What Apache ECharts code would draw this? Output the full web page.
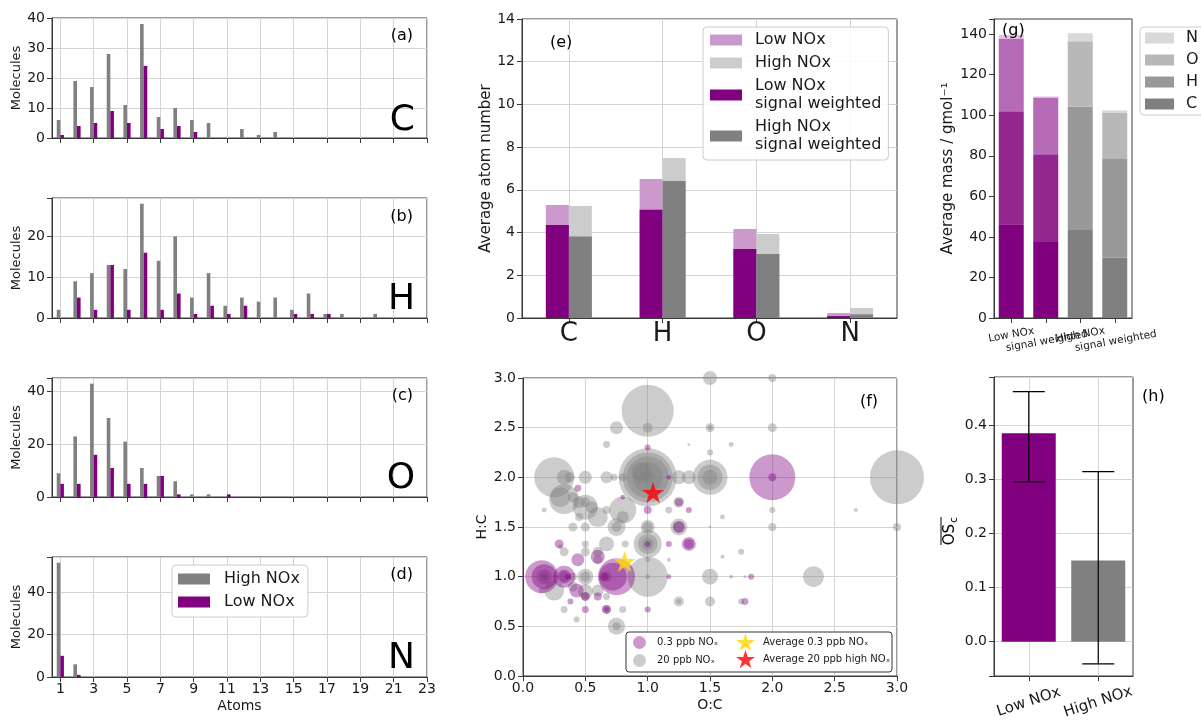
<!DOCTYPE html>
<html><head><meta charset="utf-8">
<script src="https://cdn.jsdelivr.net/npm/echarts@6/dist/echarts.min.js"></script>
<style>html,body{margin:0;padding:0;background:#fff}#c{width:1201px;height:720px}</style>
</head><body><div id="c"></div>
<script>
// ---------- data ----------
const atoms = [1,2,3,4,5,6,7,8,9,10,11,12,13,14,15,16,17,18,19,20,21,22,23];
const atomTicks = [1,3,5,7,9,11,13,15,17,19,21,23];
const cHigh = [6,19,17,28,11,38,7,10,6,5,0,3,1,2,0,0,0,0,0,0,0,0,0];
const cLow  = [1,4,5,9,5,24,3,4,2,0,0,0,0,0,0,0,0,0,0,0,0,0,0];
const hHigh = [2,9,11,13,12,28,14,20,5,11,3,5,4,5,2,6,1,1,0,1,0,0,0];
const hLow  = [0,5,2,13,2,16,2,6,1,3,1,3,0,0,1,1,1,0,0,0,0,0,0];
const oHigh = [9,23,43,30,21,11,8,6,1,1,0,0,0,0,0,0,0,0,0,0,0,0,0];
const oLow  = [5,5,16,11,5,5,8,1,0,0,1,0,0,0,0,0,0,0,0,0,0,0,0];
const nHigh = [54,6,0,0,0,0,0,0,0,0,0,0,0,0,0,0,0,0,0,0,0,0,0];
const nLow  = [10,1,0,0,0,0,0,0,0,0,0,0,0,0,0,0,0,0,0,0,0,0,0];

const elements = ['C','H','O','N'];
const eLowAll  = [5.29, 6.51, 4.17, 0.23];
const eHighAll = [5.24, 7.49, 3.93, 0.47];
const eLowSW   = [4.35, 5.07, 3.23, 0.09];
const eHighSW  = [3.82, 6.41, 3.00, 0.17];

const gCats = ['Low NOx', '\nsignal weighted', 'High NOx', '\nsignal weighted'];
const gC = [46.3, 37.5, 43.4, 29.7];
const gH = [55.7, 43.3, 60.9, 48.7];
const gO = [35.9, 28.0, 32.2, 22.8];
const gN = [1.8, 0.5, 4.0, 1.2];

const hCats = ['Low NOx', 'High NOx'];
const hOSc = [0.385, 0.15];
const hErrLow = [0.295, -0.041];
const hErrHigh = [0.462, 0.314];

// (f) O:C, H:C, signal (bubble area)
const fHighOC = [1.0,1.5,2.0,0.75,1.0,1.5,1.5,2.0,0.67,1.33,1.67,1.5,1.0,1.0,1.0,1.0,0.95,1.0,0.25,0.33,0.375,0.5,0.67,0.73,0.8,1.25,1.33,1.5,1.5,1.5,3.0,0.33,0.3,0.4,0.45,0.5,0.5,0.55,0.6,0.67,0.8,0.8,0.75,0.75,0.4,0.5,0.45,0.17,1.0,1.0,1.0,1.0,1.0,1.17,1.25,1.25,1.25,1.6,2.0,2.67,2.0,3.0,1.5,0.5,0.5,0.67,0.82,0.33,0.3,0.6,0.6,1.0,1.17,1.75,1.6,1.0,1.0,0.67,0.5,0.5,0.4,0.17,0.17,0.33,0.25,0.15,0.5,0.5,0.6,0.67,1.5,1.67,1.78,2.33,1.25,1.25,1.5,0.75,0.75,0.43,0.33,0.8,0.67,1.75,0.4];
const fHighHC = [2.67,3.0,3.0,2.5,2.5,2.5,2.5,2.5,2.33,2.33,2.33,2.25,2.0,2.0,2.0,2.0,2.05,2.0,2.0,2.0,2.0,2.0,2.0,2.0,2.0,2.0,2.0,2.0,2.0,2.0,2.0,1.78,1.8,1.8,1.75,1.7,1.75,1.7,1.6,1.67,1.67,1.6,1.5,1.5,1.5,1.5,1.6,1.67,1.5,1.5,1.33,1.33,1.33,1.67,1.75,1.5,1.5,1.6,1.67,1.67,1.5,1.5,1.5,1.33,1.25,1.33,1.33,1.25,1.3,1.25,1.17,1.17,1.17,1.25,1.2,1.0,1.0,1.0,1.0,1.0,1.0,1.0,1.0,1.0,0.86,0.86,0.85,0.8,0.86,0.8,1.0,1.0,1.0,1.0,0.75,0.75,0.75,0.5,0.5,0.57,0.67,0.67,0.67,0.75,0.9];
const fHighSignal = [676,49,16,42,25,20,6,20,12,2,6,9,841,625,441,225,100,36,400,56,25,42,36,12,16,49,49,306,156,56,729,225,100,25,36,156,25,36,100,16,182,36,81,25,20,20,16,6,49,25,196,100,36,12,30,72,30,6,9,4,16,16,2,12,20,56,12,20,6,25,20,6,4,9,4,400,6,25,64,25,16,56,16,25,100,9,56,16,36,12,64,4,2,110,25,6,25,72,16,9,12,12,20,9,25];
const fLowOC = [2.0,2.0,0.75,0.72,0.15,0.17,0.33,0.33,0.36,0.44,0.6,0.43,0.5,0.6,0.38,0.5,0.67,0.67,1.0,1.17,1.33,1.33,1.33,1.17,1.25,1.25,1.0,0.44,0.8,1.0,1.78,1.83,0.29,1.0,1.17,0.65];
const fLowHC = [2.0,2.0,1.0,1.0,1.0,1.0,1.0,1.0,1.0,1.17,1.2,0.86,0.8,0.8,0.75,0.67,0.67,0.67,0.67,1.0,1.33,1.33,1.67,1.33,1.5,1.75,1.67,1.89,1.8,2.3,0.75,1.0,1.33,1.33,2.0,1.0];
const fLowSignal = [529,16,342,196,272,156,121,49,9,42,49,49,20,16,9,12,20,6,9,6,49,25,9,9,36,16,16,12,6,9,12,9,20,9,6,20];
const fAvgLow = [0.815, 1.152];
const fAvgHigh = [1.043, 1.848];

// ---------- style ----------
const FONT = 'DejaVu Sans';
const TXT = '#1a1a1a';
const FRAME = '#3a3a3a';
const GRIDC = '#d4d4d4';
const PURPLE = '#800080', GREY = '#808080';
const STAR = 'path://M0,-10L2.245,-3.09L9.511,-3.09L3.633,1.18L5.878,8.09L0,3.82L-5.878,8.09L-3.633,1.18L-9.511,-3.09L-2.245,-3.09Z';

function onStep(step, dec) {
  return v => Math.abs(v / step - Math.round(v / step)) < 1e-6 ? (dec ? v.toFixed(dec) : String(Math.round(v))) : '';
}
const axisLine = {show: true, onZero: false, lineStyle: {color: FRAME, width: 1}};
const axisTick = {show: true, length: 5, lineStyle: {color: FRAME, width: 1}};
const splitLine = {show: true, lineStyle: {color: GRIDC, width: 1}};
const lbl = (fs, margin) => ({color: TXT, fontFamily: FONT, fontSize: fs, margin: margin});
const nameStyle = fs => ({color: TXT, fontFamily: FONT, fontSize: fs});

const grids = [
  {left: 52, top: 18, width: 375, height: 120},
  {left: 52, top: 198, width: 375, height: 120},
  {left: 52, top: 378, width: 375, height: 119},
  {left: 52, top: 557, width: 375, height: 120},
  {left: 522, top: 19, width: 375, height: 299},
  {left: 523, top: 378, width: 374, height: 298},
  {left: 994, top: 19, width: 138, height: 299},
  {left: 994, top: 377, width: 139, height: 299}
].map(g => Object.assign({show: true, borderColor: FRAME, borderWidth: 1, backgroundColor: 'transparent', containLabel: false, outerBoundsMode: 'none'}, g));

const xAxis = [], yAxis = [], series = [];

// (a)-(d)
const hist = [
  {hi: cHigh, lo: cLow, max: 40, step: 10},
  {hi: hHigh, lo: hLow, max: 29.4, step: 10},
  {hi: oHigh, lo: oLow, max: 45.15, step: 20},
  {hi: nHigh, lo: nLow, max: 56.7, step: 20}
];
hist.forEach((p, i) => {
  xAxis.push({type: 'value', gridIndex: i, min: 0.5, max: 23,
    axisLine, axisTick: Object.assign({}, axisTick, {customValues: atomTicks}),
    axisLabel: Object.assign(lbl(14, 5), {show: i === 3, customValues: atomTicks}),
    splitLine,
    name: i === 3 ? 'Atoms' : '', nameLocation: 'middle', nameGap: 22, nameTextStyle: nameStyle(14)});
  yAxis.push({type: 'value', gridIndex: i, min: 0, max: p.max, interval: p.step,
    axisLine, axisTick, axisLabel: Object.assign(lbl(14, 7), {formatter: onStep(p.step, 0)}),
    splitLine,
    name: 'Molecules', nameLocation: 'middle', nameGap: 26, nameTextStyle: nameStyle(13)});
  series.push({type: 'bar', name: 'High NOx', xAxisIndex: i, yAxisIndex: i, barWidth: 3.6, barGap: '0%',
    data: atoms.map((a, k) => [a, p.hi[k]]), itemStyle: {color: GREY}});
  series.push({type: 'bar', name: 'Low NOx', xAxisIndex: i, yAxisIndex: i, barWidth: 3.6, barGap: '0%',
    data: atoms.map((a, k) => [a, p.lo[k]]), itemStyle: {color: PURPLE}});
});

// (e)
xAxis.push({type: 'category', gridIndex: 4, data: elements, axisLine,
  axisTick: Object.assign({}, axisTick, {alignWithLabel: true}),
  axisLabel: lbl(26, 3), splitLine: Object.assign({}, splitLine, {alignWithLabel: true})}); // xAxis 4
xAxis.push({type: 'category', gridIndex: 4, data: elements, show: false}); // xAxis 5
yAxis.push({type: 'value', gridIndex: 4, min: 0, max: 14, interval: 2, axisLine, axisTick,
  axisLabel: lbl(14, 7), splitLine,
  name: 'Average atom number', nameLocation: 'middle', nameGap: 28, nameTextStyle: nameStyle(15)}); // yAxis 4
const eNames = {eLowAll: 'Low NOx', eHighAll: 'High NOx', eLowSW: 'Low NOx\nsignal weighted', eHighSW: 'High NOx\nsignal weighted'};
series.push({type: 'bar', name: 'eLowAll', xAxisIndex: 4, yAxisIndex: 4, barWidth: 23, barGap: '0%', data: eLowAll, itemStyle: {color: '#cc99cc'}});
series.push({type: 'bar', name: 'eHighAll', xAxisIndex: 4, yAxisIndex: 4, barWidth: 23, barGap: '0%', data: eHighAll, itemStyle: {color: '#cccccc'}});
series.push({type: 'bar', name: 'eLowSW', xAxisIndex: 5, yAxisIndex: 4, barWidth: 23, barGap: '0%', data: eLowSW, itemStyle: {color: PURPLE}});
series.push({type: 'bar', name: 'eHighSW', xAxisIndex: 5, yAxisIndex: 4, barWidth: 23, barGap: '0%', data: eHighSW, itemStyle: {color: GREY}});

// (f)
xAxis.push({type: 'value', gridIndex: 5, min: 0, max: 3, interval: 0.5, axisLine, axisTick,
  axisLabel: Object.assign(lbl(14, 5), {formatter: v => v.toFixed(1)}), splitLine,
  name: 'O:C', nameLocation: 'middle', nameGap: 22, nameTextStyle: nameStyle(14)}); // xAxis 6
yAxis.push({type: 'value', gridIndex: 5, min: 0, max: 3, interval: 0.5, axisLine, axisTick,
  axisLabel: Object.assign(lbl(14, 7), {formatter: v => v.toFixed(1)}), splitLine,
  name: 'H:C', nameLocation: 'middle', nameGap: 32, nameTextStyle: nameStyle(14)}); // yAxis 5
const bubbleSize = v => 2 * Math.sqrt(v[2]);
series.push({type: 'scatter', name: '20 ppb NOₓ', xAxisIndex: 6, yAxisIndex: 5, z: 2,
  data: fHighOC.map((x, k) => [x, fHighHC[k], fHighSignal[k]]), symbolSize: bubbleSize,
  itemStyle: {color: 'rgba(128,128,128,0.5)'}});
series.push({type: 'scatter', name: '0.3 ppb NOₓ', xAxisIndex: 6, yAxisIndex: 5, z: 2,
  data: fLowOC.map((x, k) => [x, fLowHC[k], fLowSignal[k]]), symbolSize: bubbleSize,
  itemStyle: {color: 'rgba(128,0,128,0.5)'}});
series.push({type: 'scatter', name: 'Average 0.3 ppb NOₓ', xAxisIndex: 6, yAxisIndex: 5, z: 3,
  data: [fAvgLow], symbol: STAR, symbolKeepAspect: true, symbolSize: 22, itemStyle: {color: '#ffd700'}});
series.push({type: 'scatter', name: 'Average 20 ppb high NOₓ', xAxisIndex: 6, yAxisIndex: 5, z: 3,
  data: [fAvgHigh], symbol: STAR, symbolKeepAspect: true, symbolSize: 22, itemStyle: {color: '#ff0000'}});

// (g)
xAxis.push({type: 'category', gridIndex: 6, data: gCats, axisLine,
  axisTick: Object.assign({}, axisTick, {alignWithLabel: true}),
  axisLabel: Object.assign(lbl(10.5, 17), {rotate: 10, align: 'center', verticalAlign: 'middle', interval: 0, lineHeight: 12.5}),
  splitLine: {show: false}}); // xAxis 7
yAxis.push({type: 'value', gridIndex: 6, min: 0, max: 147.5, interval: 20, axisLine, axisTick,
  axisLabel: Object.assign(lbl(14, 7), {formatter: onStep(20, 0)}), splitLine: {show: false},
  name: 'Average mass / gmol⁻¹', nameLocation: 'middle', nameGap: 38, nameTextStyle: nameStyle(15)}); // yAxis 6
const gPal = {
  C: ['#800080', '#800080', '#808080', '#808080'],
  H: ['#93268f', '#93268f', '#999999', '#999999'],
  O: ['#b66bb6', '#b66bb6', '#b8b8b8', '#b8b8b8'],
  N: ['#e2c4e2', '#e2c4e2', '#d9d9d9', '#d9d9d9']
};
[['C', gC], ['H', gH], ['O', gO], ['N', gN]].forEach(([nm, arr]) => {
  series.push({type: 'bar', name: nm, xAxisIndex: 7, yAxisIndex: 6, stack: 'mass', barWidth: 25,
    itemStyle: {color: gPal[nm][3]},
    data: arr.map((v, k) => ({value: v, itemStyle: {color: gPal[nm][k]}}))});
});

// (h)
xAxis.push({type: 'category', gridIndex: 7, data: hCats, axisLine,
  axisTick: Object.assign({}, axisTick, {alignWithLabel: true}),
  axisLabel: Object.assign(lbl(15, 26), {rotate: 18, align: 'center', verticalAlign: 'middle', interval: 0}),
  splitLine: Object.assign({}, splitLine, {alignWithLabel: true})}); // xAxis 8
yAxis.push({type: 'value', gridIndex: 7, min: -0.0634, max: 0.489, axisLine, axisTick,
  axisLabel: Object.assign(lbl(14, 7), {formatter: onStep(0.1, 1)}), splitLine}); // yAxis 7
const hColors = [PURPLE, GREY];
series.push({type: 'bar', name: 'OSc', xAxisIndex: 8, yAxisIndex: 7, barWidth: 54,
  data: hOSc.map((v, k) => ({value: v, itemStyle: {color: hColors[k]}}))});
series.push({type: 'custom', name: 'err', xAxisIndex: 8, yAxisIndex: 7, z: 5,
  data: hCats.map((c, k) => [k, hErrLow[k], hErrHigh[k]]),
  encode: {x: 0, y: [1, 2]},
  renderItem: (params, api) => {
    const i = api.value(0);
    const a = api.coord([i, api.value(1)]);
    const b = api.coord([i, api.value(2)]);
    const hw = 16, st = {stroke: '#000', lineWidth: 1.2};
    return {type: 'group', children: [
      {type: 'line', shape: {x1: a[0], y1: a[1], x2: b[0], y2: b[1]}, style: st},
      {type: 'line', shape: {x1: a[0] - hw, y1: a[1], x2: a[0] + hw, y2: a[1]}, style: st},
      {type: 'line', shape: {x1: b[0] - hw, y1: b[1], x2: b[0] + hw, y2: b[1]}, style: st}
    ]};
  }});

// ---------- legends ----------
const legend = [
  {data: ['High NOx', 'Low NOx'], left: 172, top: 565, orient: 'vertical', icon: 'rect',
   itemWidth: 32, itemHeight: 11, itemGap: 5, padding: [5, 8, 6, 6],
   textStyle: {fontFamily: FONT, fontSize: 16, lineHeight: 18, color: TXT, padding: [0, 0, 0, 9]},
   backgroundColor: '#fff', borderColor: '#cccccc', borderWidth: 1, borderRadius: 4},
  {data: ['eLowAll', 'eHighAll', 'eLowSW', 'eHighSW'], formatter: n => eNames[n],
   left: 703, top: 27, orient: 'vertical', icon: 'rect',
   itemWidth: 32, itemHeight: 11, itemGap: 5, padding: [4, 7, 6, 7],
   textStyle: {fontFamily: FONT, fontSize: 16, lineHeight: 18, color: TXT, padding: [0, 0, 0, 8]},
   backgroundColor: 'rgba(255,255,255,0.85)', borderColor: '#cccccc', borderWidth: 1, borderRadius: 4},
  {data: ['N', 'O', 'H', 'C'], left: 1140, top: 27, orient: 'vertical', icon: 'rect',
   itemWidth: 29, itemHeight: 11, itemGap: 4, padding: [2, 8, 2, 5],
   textStyle: {fontFamily: FONT, fontSize: 16, lineHeight: 18, color: TXT, padding: [0, 0, 0, 7]},
   backgroundColor: '#fff', borderColor: '#cccccc', borderWidth: 1, borderRadius: 4},
  {data: [{name: '0.3 ppb NOₓ', icon: 'circle'}, {name: '20 ppb NOₓ', icon: 'circle'}],
   left: 633, top: 636, orient: 'vertical', itemWidth: 13, itemHeight: 13, itemGap: 5, padding: 0, z: 6,
   textStyle: {fontFamily: FONT, fontSize: 10, color: TXT, padding: [0, 0, 0, 6]}},
  {data: [{name: 'Average 0.3 ppb NOₓ', icon: STAR}, {name: 'Average 20 ppb high NOₓ', icon: STAR}],
   left: 736, top: 633, orient: 'vertical', itemWidth: 19, itemHeight: 19, itemGap: -1, padding: 0, z: 6,
   textStyle: {fontFamily: FONT, fontSize: 10, color: TXT, padding: [0, 0, 0, 3]}}
];

// ---------- annotations ----------
const T = (text, x, y, align, fs) => ({type: 'text', x, y, z: 7,
  style: {text, fontFamily: FONT, fontSize: fs, fill: '#000', align, verticalAlign: 'middle'}});
const graphic = [
  {type: 'rect', z: 5, shape: {x: 626, y: 632, width: 266, height: 40, r: 3},
   style: {fill: '#fff', stroke: '#333', lineWidth: 1}},
  T('(a)', 413, 36, 'right', 16), T('(b)', 413, 217, 'right', 16),
  T('(c)', 413, 396, 'right', 16), T('(d)', 413, 575, 'right', 16),
  T('C', 415, 121, 'right', 36), T('H', 415, 300, 'right', 36),
  T('O', 415, 479, 'right', 36), T('N', 415, 659, 'right', 36),
  T('(e)', 550, 43, 'left', 16), T('(f)', 878, 402, 'right', 16),
  T('(g)', 1002, 31, 'left', 16), T('(h)', 1142, 397, 'left', 16),
  {type: 'group', x: 950, y: 521, rotation: Math.PI / 2, children: [
    {type: 'text', x: -3, y: 0, style: {text: 'OS', fontFamily: FONT, fontSize: 15, fill: '#000', align: 'right', verticalAlign: 'middle'}},
    {type: 'text', x: -2, y: 4, style: {text: 'c', fontFamily: FONT, fontSize: 11, fill: '#000', align: 'left', verticalAlign: 'middle'}},
    {type: 'line', shape: {x1: -24, y1: -9, x2: 4, y2: -9}, style: {stroke: '#000', lineWidth: 1}}
  ]}
];

const chart = echarts.init(document.getElementById('c'));
chart.setOption({
  animation: false,
  backgroundColor: '#fff',
  textStyle: {fontFamily: FONT},
  grid: grids, xAxis, yAxis, series, legend, graphic
});
</script></body></html>
